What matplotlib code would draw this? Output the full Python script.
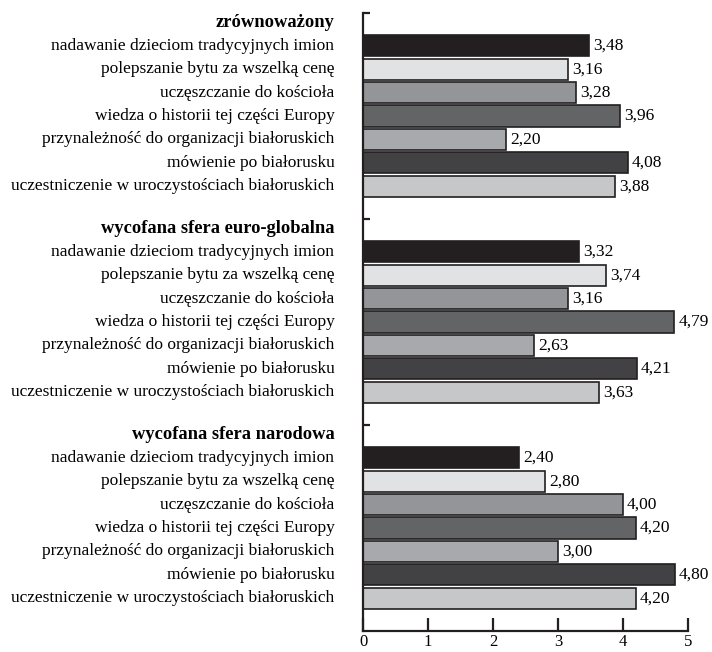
import matplotlib.pyplot as plt
import numpy as np

# =========================
# DATA
# =========================
groups = ["zrównoważony", "wycofana sfera euro-globalna", "wycofana sfera narodowa"]
items = [
    "nadawanie dzieciom tradycyjnych imion",
    "polepszanie bytu za wszelką cenę",
    "uczęszczanie do kościoła",
    "wiedza o historii tej części Europy",
    "przynależność do organizacji białoruskich",
    "mówienie po białorusku",
    "uczestniczenie w uroczystościach białoruskich",
]
values_zrown = [3.48, 3.16, 3.28, 3.96, 2.20, 4.08, 3.88]
values_euro = [3.32, 3.74, 3.16, 4.79, 2.63, 4.21, 3.63]
values_narod = [2.40, 2.80, 4.00, 4.20, 3.00, 4.80, 4.20]
x_ticks = [0, 1, 2, 3, 4, 5]

bar_colors = ["#231f20", "#e1e2e3", "#939598", "#636466", "#a7a9ac", "#424143", "#c6c7c9"]

# =========================
# PLOT
# =========================
plt.rcParams["font.family"] = ["Liberation Serif", "DejaVu Serif"]

fig = plt.figure(figsize=(7.12, 6.52), dpi=100)
ax = fig.add_axes([363 / 712, 21 / 652, 325 / 712, 618 / 652])

group_step = 8.8
first_off = 1.4
all_values = [values_zrown, values_euro, values_narod]

for g, (name, vals) in enumerate(zip(groups, all_values)):
    base = g * group_step
    ys = base + first_off + np.arange(len(vals))
    ax.barh(ys, vals, height=0.9, color=bar_colors, edgecolor="#231f20", linewidth=1.2)
    for y, v in zip(ys, vals):
        ax.text(v + 0.06, y, f"{v:.2f}".replace(".", ","), va="center", ha="left", fontsize=12.5)
    # labels on the left
    ax.text(-0.088, base + 0.4, name, transform=ax.get_yaxis_transform(),
            ha="right", va="center", fontsize=13.3, fontweight="bold")
    for y, lab in zip(ys, items):
        ax.text(-0.088, y, lab, transform=ax.get_yaxis_transform(),
                ha="right", va="center", fontsize=12.5)

ax.set_xlim(0, 5)
ax.set_ylim(3 * group_step, 0)
ax.set_xticks(x_ticks)
ax.set_xticklabels([str(t) for t in x_ticks], fontsize=12)
ax.set_yticks([g * group_step for g in range(3)])
ax.set_yticklabels([])

for side in ["top", "right"]:
    ax.spines[side].set_visible(False)
for side in ["left", "bottom"]:
    ax.spines[side].set_linewidth(1.6)
    ax.spines[side].set_color("#231f20")

ax.tick_params(axis="x", direction="in", length=9.5, width=1.6, color="#231f20", pad=2.5)
ax.tick_params(axis="y", direction="in", length=5, width=1.6, color="#231f20")

fig.savefig("out.png", dpi=100)
